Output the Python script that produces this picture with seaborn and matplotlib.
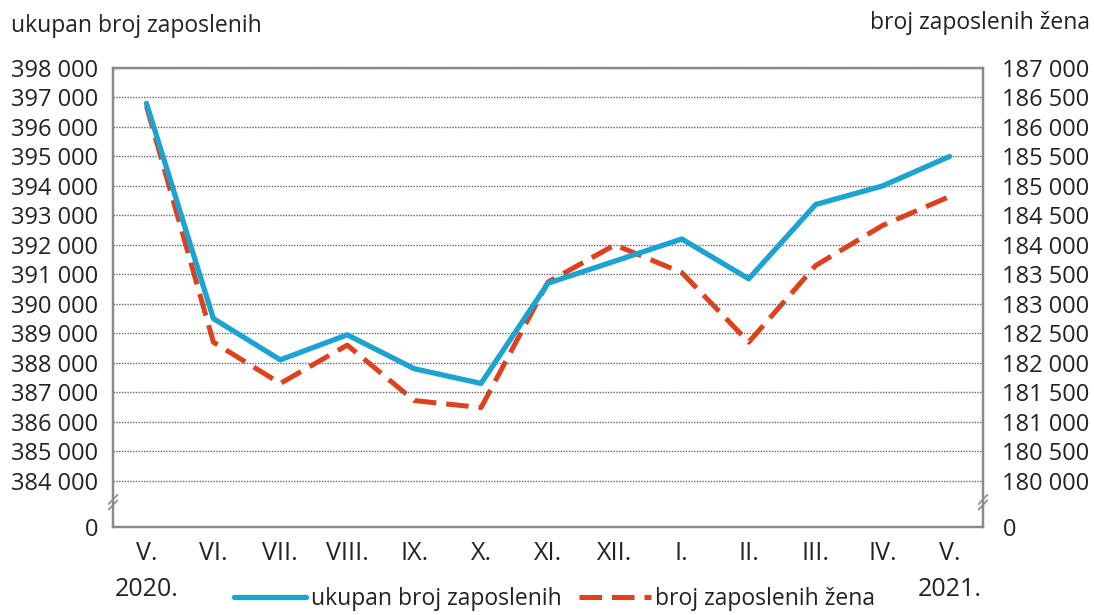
import numpy as np
import matplotlib
matplotlib.use("Agg")
import matplotlib.pyplot as plt
import matplotlib.transforms as mtransforms
from matplotlib.lines import Line2D
import seaborn as sns

months = ["V.", "VI.", "VII.", "VIII.", "IX.", "X.", "XI.", "XII.", "I.", "II.", "III.", "IV.", "V."]
years = ["2020.", "2021."]
total_employed = [396800, 389500, 388100, 388950, 387800, 387300, 390700, 391450, 392200, 390850, 393370, 394000, 395000]
women_employed = [186350, 182350, 181650, 182300, 181360, 181240, 183370, 184000, 183530, 182350, 183650, 184330, 184820]
left_ticks = [0] + list(range(384000, 398001, 1000))
right_ticks = [0] + list(range(180000, 187001, 500))
series_names = ["ukupan broj zaposlenih", "broj zaposlenih žena"]
left_title = "ukupan broj zaposlenih"
right_title = "broj zaposlenih žena"

BLUE = "#1BA3D2"
RED = "#E2401C"
GREY = "#8a8a8a"
TXT = "#222222"

sns.set_style("white")
plt.rcParams["font.family"] = ["Open Sans", "DejaVu Sans"]

def make_scale(brk, gap):
    def fwd(v):
        v = np.asarray(v, dtype=float)
        return np.where(v >= brk, v, brk - gap + v * gap / brk)
    def inv(u):
        u = np.asarray(u, dtype=float)
        return np.where(u >= brk, u, (u - (brk - gap)) * brk / gap)
    return fwd, inv

def fmt(v):
    return f"{int(v):,}".replace(",", " ")

fig = plt.figure(figsize=(10.94, 6.15), dpi=100)
ax = fig.add_axes([0.1033, 0.1431, 0.7952, 0.7463])
ax2 = ax.twinx()

x = np.arange(len(months))
ax.set_yscale("function", functions=make_scale(384000, 1570))
ax2.set_yscale("function", functions=make_scale(180000, 785))

sns.lineplot(x=x, y=total_employed, ax=ax, color=BLUE, lw=3.8, zorder=4)
sns.lineplot(x=x, y=women_employed, ax=ax2, color=RED, lw=3.6, zorder=3)
ax2.lines[-1].set_dashes((4.5, 2.0))

ax.set_zorder(ax2.get_zorder() + 1)
ax.patch.set_visible(False)

ax.set_xlim(-0.5, 12.5)
ax.set_ylim(0, 398000)
ax2.set_ylim(0, 187000)

ax.set_yticks(left_ticks)
ax.set_yticklabels([fmt(v) for v in left_ticks])
ax2.set_yticks(right_ticks)
ax2.set_yticklabels([fmt(v) for v in right_ticks])
ax.set_xticks(x)
ax.set_xticklabels(months)

for a in (ax, ax2):
    a.tick_params(axis="both", length=0, labelsize=17, colors=TXT)
    for s in a.spines.values():
        s.set_color(GREY)
        s.set_linewidth(1.6)
ax.tick_params(axis="y", pad=10.5)
ax.tick_params(axis="x", pad=10, labelsize=18)
ax2.tick_params(axis="y", pad=14)

ax.yaxis.grid(True, linestyle=(0, (1, 1)), color="#666666", lw=1.0)
ax.set_axisbelow(True)

# axis break marks
for xa in (0.0, 1.0):
    for dy in (-0.006, 0.006):
        ax.plot([xa - 0.005, xa + 0.005], [0.054 + dy - 0.01, 0.054 + dy + 0.01],
                transform=ax.transAxes, color=GREY, lw=1.2, clip_on=False, zorder=6)

trans = mtransforms.blended_transform_factory(ax.transData, fig.transFigure)
ax.text(0, 0.042, years[0], transform=trans, ha="center", va="center", fontsize=18, color=TXT)
ax.text(12, 0.042, years[1], transform=trans, ha="center", va="center", fontsize=18, color=TXT)

fig.text(0.010, 0.957, left_title, ha="left", va="center", fontsize=16.5, color=TXT)
fig.text(0.996, 0.962, right_title, ha="right", va="center", fontsize=16.5, color=TXT)

handles = [Line2D([], [], color=BLUE, lw=3.8),
           Line2D([], [], color=RED, lw=3.6, dashes=(4.5, 2.0))]
fig.legend(handles, series_names, loc="center", bbox_to_anchor=(0.507, 0.026), ncol=2,
           frameon=False, fontsize=16.5, handlelength=3.15, handletextpad=0.2, columnspacing=0.75,
           borderpad=0, labelcolor=TXT)

ax.set_xlabel("")
ax.set_ylabel("")
ax2.set_ylabel("")
fig.savefig("out.png", dpi=100)
